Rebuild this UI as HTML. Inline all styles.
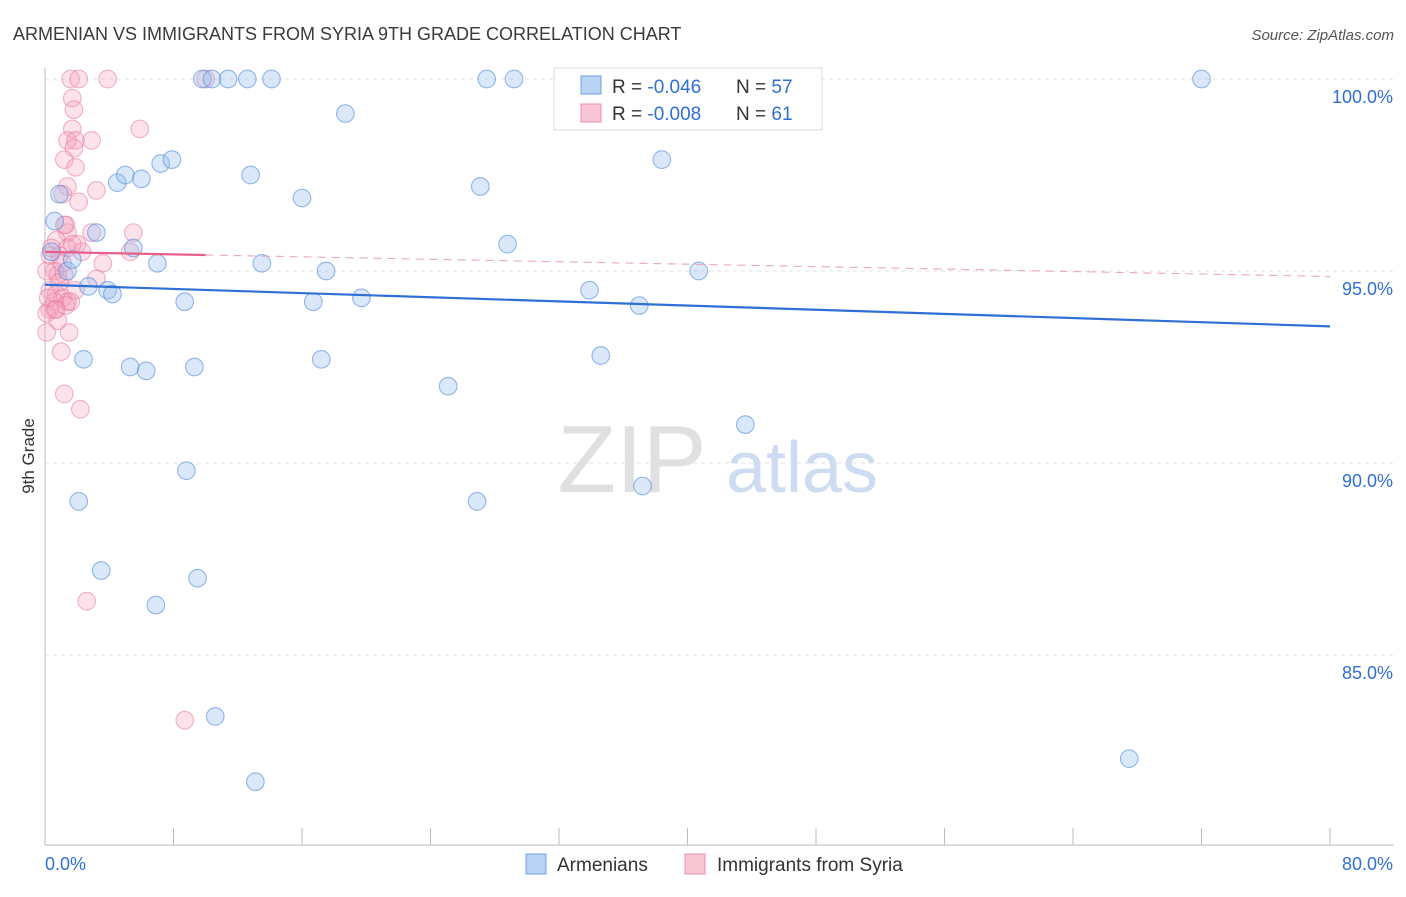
<!DOCTYPE html>
<html><head><meta charset="utf-8"><style>
body{margin:0;background:#fff;font-family:"Liberation Sans",sans-serif;}
svg text{font-family:"Liberation Sans",sans-serif;}
</style></head><body>
<svg width="1406" height="892">
<text x="13" y="40" font-size="18" fill="#3a3a3a">ARMENIAN VS IMMIGRANTS FROM SYRIA 9TH GRADE CORRELATION CHART</text>
<text x="1394" y="40" font-size="15" fill="#555" font-style="italic" text-anchor="end">Source: ZipAtlas.com</text>
<g id="grid"></g>
<g id="axes"></g>
<text x="632" y="492" font-size="96" fill="#e0e0e0" font-family="Liberation Serif" text-anchor="middle">ZIP</text>
<text x="802" y="492" font-size="72" fill="#cddcf1" text-anchor="middle">atlas</text>
<g id="pts"></g>
<g id="trend"></g>
<text transform="translate(34,456) rotate(-90)" font-size="17" fill="#333" text-anchor="middle">9th Grade</text>
<g>
<rect x="554" y="68" width="268" height="62" fill="#fff" stroke="#ddd"/>
<rect x="581" y="76" width="20" height="18" fill="#b9d3f5" stroke="#6f9fe0"/>
<rect x="581" y="104" width="20" height="18" fill="#f9c6d6" stroke="#ec8fae"/>
<text x="612" y="93" font-size="19" fill="#333">R = <tspan fill="#2f6fd6">-0.046</tspan></text>
<text x="736" y="93" font-size="19" fill="#333">N = <tspan fill="#2f6fd6">57</tspan></text>
<text x="612" y="120" font-size="19" fill="#333">R = <tspan fill="#2f6fd6">-0.008</tspan></text>
<text x="736" y="120" font-size="19" fill="#333">N =  <tspan fill="#2f6fd6">61</tspan></text>
</g>
<g>
<rect x="526" y="854" width="20" height="20" fill="#b9d3f5" stroke="#6f9fe0"/>
<text x="557" y="871" font-size="19" fill="#333">Armenians</text>
<rect x="685" y="854" width="20" height="20" fill="#f9c6d6" stroke="#ec8fae"/>
<text x="717" y="871" font-size="19" fill="#333">Immigrants from Syria</text>
</g>
</svg>
<script>
const yTicks=[100,95,90,85];
const yTickLabels=["100.0%","95.0%","90.0%","85.0%"];
const xTickLabels=["0.0%","80.0%"];
const blueX=[0.6,0.9,1.4,1.7,2.1,2.4,2.7,3.2,3.5,3.9,4.2,4.5,5.0,5.3,5.5,6.0,6.3,6.9,7.0,7.2,7.9,8.7,8.8,9.3,9.5,9.8,10.4,10.6,11.4,12.6,12.8,13.1,13.5,14.1,16.0,16.7,17.2,17.5,18.7,19.7,25.1,26.9,27.1,27.5,28.8,29.2,32.7,33.9,34.6,37.0,37.2,38.4,40.7,43.6,67.5,72.0,0.4];
const blueY=[96.3,97.0,95.0,95.3,89.0,92.7,94.6,96.0,87.2,94.5,94.4,97.3,97.5,92.5,95.6,97.4,92.4,86.3,95.2,97.8,97.9,94.2,89.8,92.5,87.0,100,100,83.4,100,100,97.5,81.7,95.2,100,96.9,94.2,92.7,95.0,99.1,94.3,92.0,89.0,97.2,100,95.7,100,100,94.5,92.8,94.1,89.4,97.9,95.0,91.0,82.3,100,95.5];
const pinkX=[1.6,2.1,3.9,1.7,1.8,5.9,1.7,1.4,1.9,2.9,1.8,1.2,1.9,1.4,3.2,1.1,2.1,1.3,2.9,5.5,1.4,0.7,2.0,1.4,2.3,5.3,0.3,0.9,3.6,0.6,0.1,1.2,3.2,0.3,0.7,1.1,1.4,0.6,1.3,0.3,0.1,0.8,1.5,0.1,1.0,1.2,2.2,2.6,8.7,0.8,1.1,1.6,0.6,0.9,0.4,1.9,1.2,10.0,0.2,1.7,0.7];
const pinkY=[100,100,100,99.5,99.2,98.7,98.7,98.4,98.4,98.4,98.2,97.9,97.7,97.2,97.1,97.0,96.8,96.2,96.0,96.0,96.0,95.8,95.7,95.6,95.5,95.5,95.4,95.4,95.2,95.0,95.0,94.9,94.8,94.5,94.4,94.3,94.2,94.2,94.1,94.0,93.9,93.7,93.4,93.4,92.9,91.8,91.4,86.4,83.3,94.9,95.2,94.2,94.0,94.7,95.6,94.5,96.2,100,94.3,95.7,94.0];
const NS="http://www.w3.org/2000/svg";
const X=v=>45+v/80*1285, Y=v=>79+(100-v)*38.4;
function mk(t,a,p){const e=document.createElementNS(NS,t);for(const k in a)e.setAttribute(k,a[k]);document.getElementById(p).appendChild(e);return e;}
yTicks.forEach((t,i)=>{
 const l=mk('line',{x1:45,x2:1394,y1:Y(t),y2:Y(t),stroke:'#e2e2e2','stroke-dasharray':'4,4'},'grid');
 
 
 const tx=mk('text',{x:1393,y:Y(t)+24,'font-size':18,fill:'#2f6fd6','text-anchor':'end'},'grid');
 tx.textContent=yTickLabels[i];
 
 
});
const ax=mk('line',{x1:45,x2:45,y1:68,y2:845,stroke:'#bbb'},'axes');


const bx=mk('line',{x1:45,x2:1394,y1:845,y2:845,stroke:'#bbb'},'axes');


for(let i=0;i<=10;i++){const t=mk('line',{x1:X(i*8),x2:X(i*8),y1:828,y2:845,stroke:'#bbb'},'axes');
 
 }
[[0,'start',45],[80,'end',1393]].forEach((d,i)=>{const t=mk('text',{x:d[2],y:870,'font-size':18,fill:'#2f6fd6','text-anchor':d[1]},'axes');t.textContent=xTickLabels[i];
 
 });
pinkX.forEach((x,i)=>{const c=mk('circle',{cx:X(x),cy:Y(pinkY[i]),r:8.8,fill:'rgba(244,160,188,0.3)',stroke:'rgba(232,120,155,0.55)','stroke-width':1.1},'pts');
 
 });
blueX.forEach((x,i)=>{const c=mk('circle',{cx:X(x),cy:Y(blueY[i]),r:8.8,fill:'rgba(150,188,238,0.35)',stroke:'rgba(80,138,222,0.6)','stroke-width':1.1},'pts');
 
 });
function fit(xs,ys){const n=xs.length,mx=xs.reduce((a,b)=>a+b)/n,my=ys.reduce((a,b)=>a+b)/n;let sxy=0,sxx=0;xs.forEach((x,i)=>{sxy+=(x-mx)*(ys[i]-my);sxx+=(x-mx)**2});const b=sxy/sxx;return [my-b*mx,b];}
const fb=fit(blueX,blueY), fp=fit(pinkX,pinkY);
const tb=mk('line',{x1:X(0),y1:Y(fb[0]),x2:X(80),y2:Y(fb[0]+fb[1]*80),stroke:'#2f6fd6','stroke-width':2.2},'trend');


const tp=mk('line',{x1:X(0),y1:Y(fp[0]),x2:X(10),y2:Y(fp[0]+fp[1]*10),stroke:'#e8608a','stroke-width':2.2},'trend');


const td=mk('line',{x1:X(10),y1:Y(fp[0]+fp[1]*10),x2:X(80),y2:Y(fp[0]+fp[1]*80),stroke:'#eaa6bd','stroke-width':1.1,'stroke-dasharray':'8,6'},'trend');


</script>
</body></html>
